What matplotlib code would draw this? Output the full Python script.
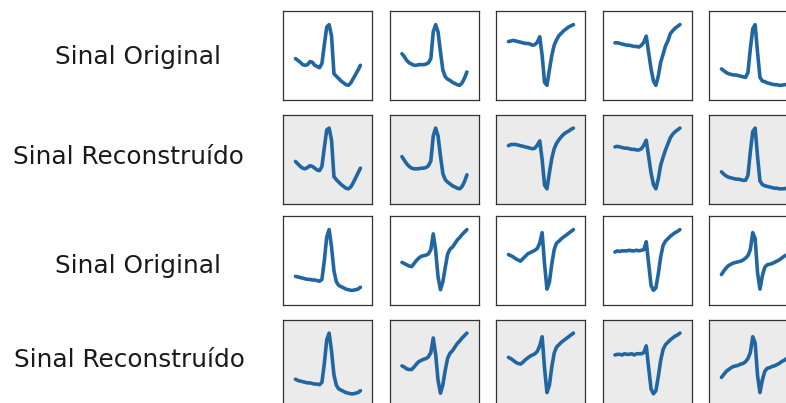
import numpy as np
import matplotlib
matplotlib.use('Agg')
import matplotlib.pyplot as plt

# Heartbeat samples (normalised amplitude)
orig_1 = [0.44, 0.41, 0.38, 0.34, 0.33, 0.34, 0.39, 0.38, 0.33, 0.31, 0.29, 0.36, 0.67, 0.96,
          1.00, 0.81, 0.19, 0.15, 0.11, 0.07, 0.04, 0.01, 0.00, 0.04, 0.11, 0.18, 0.25, 0.33]
orig_2 = [0.52, 0.47, 0.41, 0.37, 0.35, 0.33, 0.33, 0.34, 0.34, 0.34, 0.35, 0.37, 0.44, 0.88,
          1.00, 0.88, 0.55, 0.25, 0.14, 0.10, 0.08, 0.05, 0.03, 0.01, 0.00, 0.04, 0.12, 0.22]
orig_3 = [0.72, 0.73, 0.74, 0.73, 0.72, 0.71, 0.70, 0.69, 0.69, 0.68, 0.66, 0.67, 0.71, 0.80,
          0.49, 0.05, 0.00, 0.25, 0.49, 0.66, 0.75, 0.82, 0.86, 0.90, 0.93, 0.96, 0.98, 1.00]
orig_4 = [0.70, 0.70, 0.69, 0.68, 0.67, 0.66, 0.66, 0.65, 0.64, 0.64, 0.63, 0.66, 0.71, 0.81,
          0.54, 0.27, 0.07, 0.00, 0.15, 0.38, 0.51, 0.65, 0.73, 0.85, 0.90, 0.94, 0.97, 1.00]
orig_5 = [0.27, 0.24, 0.21, 0.19, 0.18, 0.17, 0.17, 0.16, 0.15, 0.14, 0.13, 0.21, 0.60, 0.93,
          1.00, 0.54, 0.13, 0.07, 0.06, 0.04, 0.03, 0.02, 0.01, 0.01, 0.00, 0.00, 0.01, 0.01]
orig_6 = [0.23, 0.22, 0.21, 0.20, 0.19, 0.18, 0.18, 0.17, 0.17, 0.16, 0.15, 0.18, 0.49, 0.88,
          1.00, 0.71, 0.32, 0.14, 0.08, 0.06, 0.04, 0.02, 0.01, 0.00, 0.00, 0.01, 0.02, 0.05]
orig_7 = [0.46, 0.44, 0.42, 0.40, 0.39, 0.44, 0.49, 0.53, 0.56, 0.57, 0.58, 0.60, 0.67, 0.93,
          0.66, 0.22, 0.01, 0.14, 0.38, 0.60, 0.68, 0.71, 0.77, 0.83, 0.87, 0.92, 0.96, 1.00]
orig_8 = [0.59, 0.57, 0.55, 0.52, 0.50, 0.48, 0.52, 0.56, 0.60, 0.62, 0.64, 0.66, 0.69, 0.78,
          0.95, 0.43, 0.02, 0.13, 0.43, 0.67, 0.78, 0.81, 0.85, 0.88, 0.91, 0.94, 0.97, 1.00]
orig_9 = [0.63, 0.65, 0.64, 0.65, 0.65, 0.65, 0.66, 0.65, 0.65, 0.66, 0.65, 0.66, 0.67, 0.80,
          0.44, 0.08, 0.00, 0.04, 0.27, 0.55, 0.74, 0.81, 0.85, 0.89, 0.92, 0.95, 0.97, 1.00]
orig_10 = [0.26, 0.32, 0.37, 0.41, 0.43, 0.45, 0.46, 0.47, 0.48, 0.50, 0.53, 0.57, 0.67, 0.95,
           0.85, 0.29, 0.02, 0.24, 0.38, 0.42, 0.43, 0.44, 0.46, 0.48, 0.50, 0.53, 0.56, 0.58]

recon_1 = [0.45, 0.41, 0.37, 0.34, 0.33, 0.35, 0.38, 0.37, 0.34, 0.31, 0.30, 0.37, 0.68, 0.97,
           1.00, 0.80, 0.20, 0.15, 0.11, 0.07, 0.04, 0.01, 0.00, 0.03, 0.10, 0.18, 0.26, 0.34]
recon_2 = [0.53, 0.47, 0.41, 0.37, 0.34, 0.33, 0.33, 0.33, 0.34, 0.34, 0.35, 0.38, 0.46, 0.87,
           1.00, 0.87, 0.54, 0.25, 0.15, 0.11, 0.08, 0.05, 0.03, 0.01, 0.00, 0.04, 0.12, 0.23]
recon_3 = [0.71, 0.73, 0.73, 0.73, 0.72, 0.71, 0.70, 0.69, 0.68, 0.67, 0.66, 0.67, 0.72, 0.79,
           0.48, 0.06, 0.00, 0.26, 0.50, 0.66, 0.75, 0.81, 0.86, 0.90, 0.93, 0.95, 0.98, 1.00]
recon_4 = [0.69, 0.70, 0.69, 0.68, 0.67, 0.67, 0.66, 0.65, 0.65, 0.64, 0.64, 0.66, 0.72, 0.80,
           0.53, 0.26, 0.07, 0.00, 0.16, 0.39, 0.52, 0.64, 0.74, 0.84, 0.90, 0.94, 0.97, 1.00]
recon_5 = [0.28, 0.24, 0.21, 0.19, 0.18, 0.17, 0.16, 0.16, 0.15, 0.14, 0.14, 0.22, 0.61, 0.94,
           1.00, 0.53, 0.13, 0.07, 0.05, 0.04, 0.03, 0.02, 0.01, 0.01, 0.00, 0.00, 0.00, 0.01]
recon_6 = [0.24, 0.22, 0.21, 0.20, 0.19, 0.18, 0.18, 0.17, 0.16, 0.16, 0.15, 0.19, 0.50, 0.89,
           1.00, 0.70, 0.31, 0.14, 0.08, 0.06, 0.04, 0.02, 0.01, 0.00, 0.00, 0.01, 0.02, 0.05]
recon_7 = [0.46, 0.44, 0.41, 0.40, 0.40, 0.44, 0.49, 0.53, 0.55, 0.57, 0.58, 0.61, 0.68, 0.92,
           0.65, 0.22, 0.01, 0.15, 0.39, 0.59, 0.67, 0.71, 0.77, 0.83, 0.87, 0.92, 0.96, 1.00]
recon_8 = [0.60, 0.58, 0.55, 0.52, 0.50, 0.49, 0.52, 0.56, 0.59, 0.62, 0.64, 0.66, 0.70, 0.79,
           0.94, 0.42, 0.02, 0.14, 0.44, 0.67, 0.77, 0.81, 0.85, 0.88, 0.91, 0.94, 0.97, 1.00]
recon_9 = [0.64, 0.65, 0.65, 0.64, 0.66, 0.65, 0.65, 0.66, 0.64, 0.66, 0.66, 0.66, 0.68, 0.79,
           0.43, 0.08, 0.00, 0.05, 0.28, 0.55, 0.73, 0.81, 0.85, 0.89, 0.92, 0.95, 0.97, 1.00]
recon_10 = [0.27, 0.32, 0.37, 0.40, 0.43, 0.45, 0.46, 0.47, 0.49, 0.50, 0.53, 0.58, 0.68, 0.94,
            0.84, 0.30, 0.02, 0.23, 0.37, 0.42, 0.43, 0.45, 0.46, 0.48, 0.50, 0.53, 0.55, 0.58]

grid_rows = [
    ('Sinal Original', [orig_1, orig_2, orig_3, orig_4, orig_5]),
    ('Sinal Reconstruído', [recon_1, recon_2, recon_3, recon_4, recon_5]),
    ('Sinal Original', [orig_6, orig_7, orig_8, orig_9, orig_10]),
    ('Sinal Reconstruído', [recon_6, recon_7, recon_8, recon_9, recon_10]),
]

W, H = 786, 403
fig = plt.figure(figsize=(W / 100, H / 100), dpi=100)

# pixel layout of the (cropped) grid
col_left = [283, 389.5, 496, 602.5, 709]
row_top = [11, 114.5, 216, 319.5]
box = 89
label_x = [138, 128, 138, 129]
label_y = [57, 157, 266, 360]

line_color = '#2166a0'
for r, (label, signals) in enumerate(grid_rows):
    for c, sig in enumerate(signals):
        ax = fig.add_axes([col_left[c] / W, 1 - (row_top[r] + box) / H, box / W, box / H])
        n = len(sig)
        ax.plot(np.arange(n), sig, color=line_color, linewidth=2.6,
                solid_capstyle='round', solid_joinstyle='round')
        span = (n - 1) / 0.73
        ax.set_xlim(-0.14 * span, -0.14 * span + span)
        ax.set_ylim(-0.242, 1.224)
        ax.set_xticks([])
        ax.set_yticks([])
        if 'Reconstru' in label:
            ax.set_facecolor('#ebebeb')
        for sp in ax.spines.values():
            sp.set_color('#333333')
            sp.set_linewidth(0.9)
    fig.text(label_x[r] / W, 1 - label_y[r] / H, label, fontsize=17.8,
             ha='center', va='center', color='#1a1a1a')

fig.savefig('out.png', dpi=100, facecolor='white')
